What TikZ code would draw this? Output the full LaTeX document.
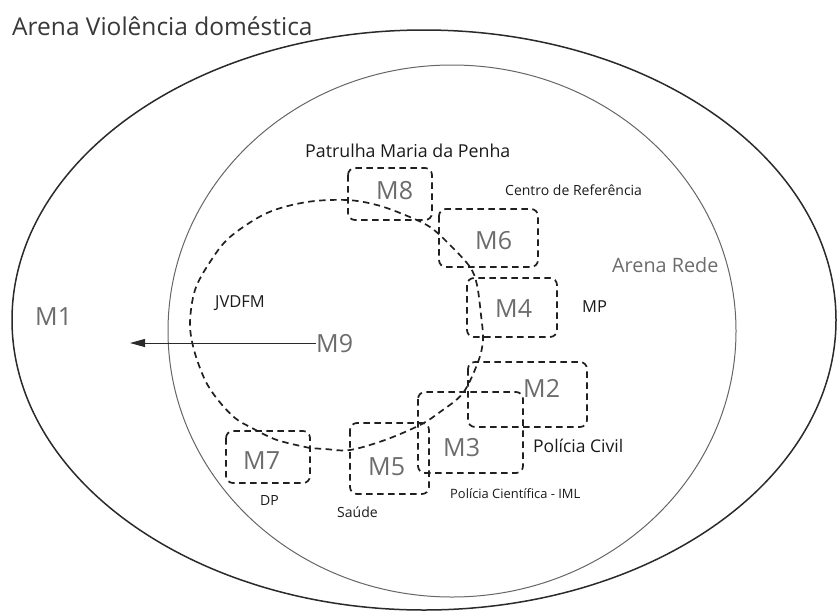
\documentclass[tikz,border=0pt]{standalone}
\usepackage{fontspec}
\setmainfont{Open Sans}
\usetikzlibrary{arrows.meta}
\definecolor{arenaline}{HTML}{2A2A2A}
\definecolor{redeline}{HTML}{666666}
\definecolor{dashcol}{HTML}{202020}
\definecolor{mgray}{HTML}{6C6C6C}
\definecolor{txt}{HTML}{1A1A1A}
\definecolor{titlecol}{HTML}{383838}
\tikzset{
  dashline/.style={draw=dashcol, line width=1.7pt, dash pattern=on 6.5pt off 4.5pt},
  mbox/.style={dashline, rounded corners=7pt},
  mlabel/.style={text=mgray, inner sep=0pt, anchor=base west, font=\fontsize{25}{28}\selectfont},
  lab/.style={text=txt, inner sep=0pt, anchor=base west},
}
\begin{document}
\begin{tikzpicture}[x=1pt,y=-1pt]
\useasboundingbox (0,0) rectangle (838,614);
% arenas
\draw[arenaline, line width=1.5pt] (424,320) ellipse [x radius=412, y radius=290];
\draw[redeline, line width=1pt] (452,331) ellipse [x radius=284, y radius=266];
% JVDFM dashed loop
\draw[dashline] plot[smooth, tension=0.55] coordinates {
 (310,448) (277,440) (252,428) (235,418) (218,400) (205,380) (194,350) (190,323) (195,290)
 (210,262) (230,237) (267,213) (307,202) (347,200) (377,205) (405,215) (430,227)
 (450,245) (470,267) (477,285) (481,315) (483,340) (478,362) (463,393) (440,412)
 (420,425) (385,440) (350,450) (325,449) (310,448)};
% boxes
\draw[mbox] (348,168) rectangle (432,220);
\draw[mbox] (439,209) rectangle (538,267);
\draw[mbox] (467,278) rectangle (557,337);
\draw[mbox] (468,362) rectangle (587,427);
\draw[mbox] (418,392) rectangle (523,473);
\draw[mbox] (350,423) rectangle (429,494);
\draw[mbox] (226,431) rectangle (310,483);
% M labels
\node[mlabel] (m8) at (376,199) {M8};
\node[mlabel] (m6) at (475,249) {M6};
\node[mlabel] (m4) at (495,317) {M4};
\node[mlabel] (m2) at (523,397) {M2};
\node[mlabel] (m3) at (443,456) {M3};
\node[mlabel] (m5) at (368,475) {M5};
\node[mlabel] (m7) at (243,469) {M7};
\node[mlabel] (m9) at (316,352) {M9};
\node[mlabel] (m1) at (35,325) {M1};
% text labels
\node[lab, text=titlecol, font=\fontsize{24.5}{28}\selectfont] (title) at (12,35) {Arena Violência doméstica};
\node[lab, font=\fontsize{17.8}{20}\selectfont] (pmp) at (305,157) {Patrulha Maria da Penha};
\node[lab, font=\fontsize{14}{16}\selectfont] (cref) at (505,195) {Centro de Referência};
\node[lab, text=mgray, font=\fontsize{19.8}{22}\selectfont] (rede) at (612,272) {Arena Rede};
\node[lab, font=\fontsize{16.5}{18}\selectfont] (mp) at (582,312) {MP};
\node[lab, font=\fontsize{17.5}{20}\selectfont] (pc) at (533,452) {Polícia Civil};
\node[lab, font=\fontsize{12.9}{15}\selectfont] (pci) at (450,498) {Polícia Científica - IML};
\node[lab, font=\fontsize{14}{16}\selectfont] (dp) at (260,505) {DP};
\node[lab, font=\fontsize{14}{16}\selectfont] (saude) at (337,517) {Saúde};
\node[lab, font=\fontsize{16.5}{18}\selectfont] (jv) at (215,307) {JVDFM};
% arrow
\coordinate (tip) at (130,343);
\draw[arenaline, line width=1pt, -{Triangle[length=15pt,width=8pt]}] (m9.west |- 0,343) -- (tip);
\end{tikzpicture}
\end{document}
